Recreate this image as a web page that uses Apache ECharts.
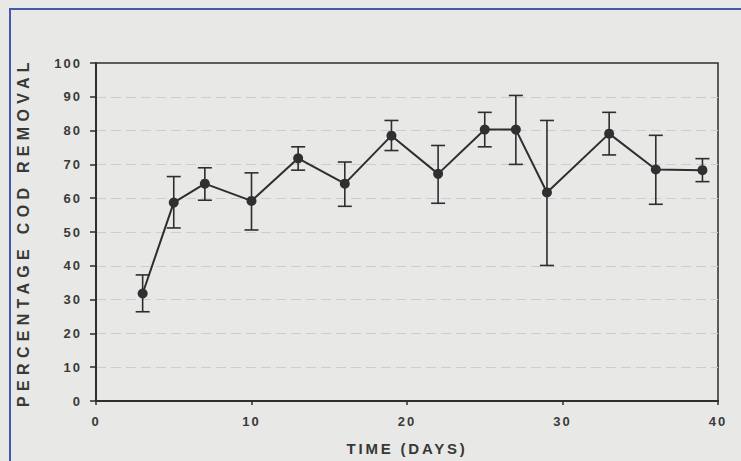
<!DOCTYPE html>
<html>
<head>
<meta charset="utf-8">
<script src="https://cdn.jsdelivr.net/npm/echarts@6/dist/echarts.min.js"></script>
<style>
html,body{margin:0;padding:0;background:#e7e7e5;}
#chart{width:741px;height:461px;}
</style>
</head>
<body>
<div id="chart"></div>
<script>
// Data
const days = [3, 5, 7, 10, 13, 16, 19, 22, 25, 27, 29, 33, 36, 39];
const codRemoval = [31.8, 58.7, 64.3, 59.2, 71.8, 64.3, 78.5, 67.2, 80.3, 80.3, 61.7, 79.1, 68.5, 68.3];
const errUpper = [37.3, 66.4, 69.0, 67.5, 75.2, 70.7, 83.0, 75.6, 85.4, 90.4, 83.0, 85.4, 78.6, 71.7];
const errLower = [26.4, 51.2, 59.4, 50.6, 68.3, 57.6, 74.1, 58.5, 75.2, 70.0, 40.1, 72.8, 58.2, 64.9];
const xTicks = [0, 10, 20, 30, 40];
const yTicks = [0, 10, 20, 30, 40, 50, 60, 70, 80, 90, 100];
const xTitle = 'TIME (DAYS)';
const yTitle = 'PERCENTAGE COD REMOVAL';

const lineData = days.map((d, i) => [d, codRemoval[i]]);
const errData = days.map((d, i) => [d, errLower[i], errUpper[i]]);

const ink = '#2e2e2e';
const labelFont = {fontFamily: 'Liberation Sans, Arial, sans-serif', fontSize: 13, fontWeight: 'bold', color: '#3a3a3a'};
const titleFont = {fontFamily: 'Liberation Sans, Arial, sans-serif', fontSize: 15, fontWeight: 'bold', color: '#383838'};

const chart = echarts.init(document.getElementById('chart'), null, {renderer: 'svg'});
chart.setOption({
  backgroundColor: '#e8e8e6',
  animation: false,
  graphic: [{
    type: 'polyline',
    shape: {points: [[10, 470], [10, 9], [760, 9]]},
    style: {stroke: '#4558b0', lineWidth: 2, fill: null},
    silent: true
  }],
  grid: {left: 96, right: 23, top: 63, bottom: 58, show: true, borderColor: ink, borderWidth: 1.5, backgroundColor: 'transparent'},
  xAxis: {
    type: 'value', min: xTicks[0], max: xTicks[xTicks.length - 1], interval: 10,
    name: xTitle, nameLocation: 'middle', nameGap: 40,
    nameTextStyle: titleFont,
    axisLine: {onZero: false, lineStyle: {color: ink, width: 2}},
    axisTick: {show: true, inside: false, length: 4, lineStyle: {color: ink, width: 1.5}},
    axisLabel: Object.assign({margin: 14}, labelFont),
    splitLine: {show: false}
  },
  yAxis: {
    type: 'value', min: yTicks[0], max: yTicks[yTicks.length - 1], interval: 10,
    name: yTitle, nameLocation: 'middle', nameGap: 65, nameRotate: 90,
    nameTextStyle: Object.assign({}, titleFont, {fontSize: 16}),
    axisLine: {show: true, lineStyle: {color: ink, width: 2}},
    axisTick: {show: true, inside: false, length: 6, lineStyle: {color: ink, width: 1.5}},
    axisLabel: Object.assign({margin: 14}, labelFont),
    splitLine: {show: true, showMinLine: false, showMaxLine: false, lineStyle: {color: '#cbcdd6', width: 1, type: [10, 5]}}
  },
  series: [
    {
      type: 'custom',
      data: errData,
      z: 3,
      renderItem: function (params, api) {
        const x = api.value(0);
        const lo = api.coord([x, api.value(1)]);
        const hi = api.coord([x, api.value(2)]);
        const half = 7;
        const style = {stroke: ink, lineWidth: 1.6};
        return {
          type: 'group',
          children: [
            {type: 'line', shape: {x1: lo[0], y1: lo[1], x2: hi[0], y2: hi[1]}, style: style},
            {type: 'line', shape: {x1: hi[0] - half, y1: hi[1], x2: hi[0] + half, y2: hi[1]}, style: style},
            {type: 'line', shape: {x1: lo[0] - half, y1: lo[1], x2: lo[0] + half, y2: lo[1]}, style: style}
          ]
        };
      }
    },
    {
      type: 'line',
      data: lineData,
      z: 4,
      symbol: 'circle',
      symbolSize: 10,
      itemStyle: {color: '#303030'},
      lineStyle: {color: ink, width: 2}
    }
  ]
});

// widen the letter spacing of the texts, as in the scanned original
function spaceLetters() {
  document.querySelectorAll('#chart svg text').forEach(function (t) {
    const s = t.textContent;
    if (s === yTitle) t.style.letterSpacing = '5.3px';
    else if (s === xTitle) t.style.letterSpacing = '2.8px';
    else t.style.letterSpacing = '2px';
  });
}
spaceLetters();
chart.on('finished', spaceLetters);
requestAnimationFrame(spaceLetters);
</script>
</body>
</html>
